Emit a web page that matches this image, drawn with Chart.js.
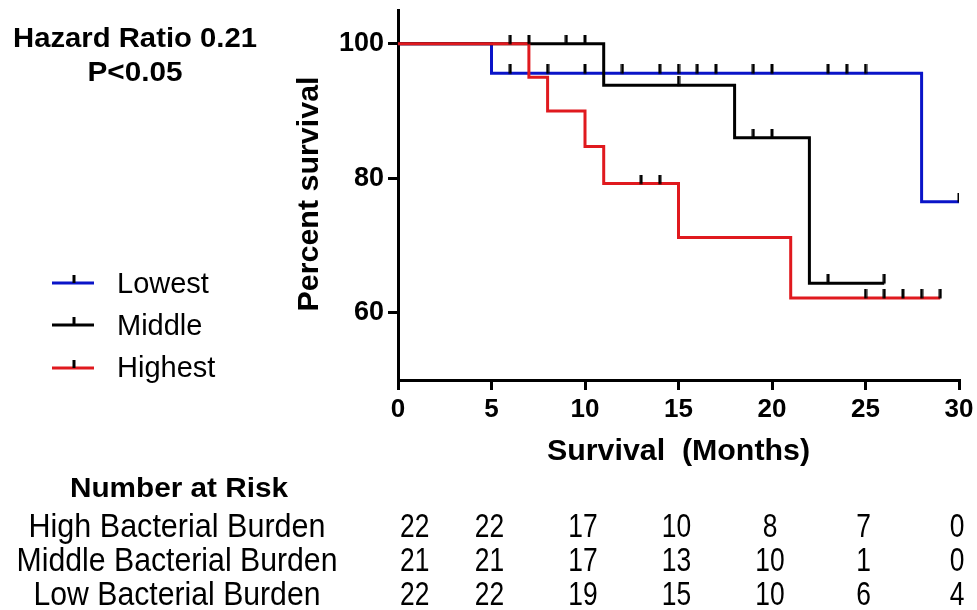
<!DOCTYPE html>
<html>
<head>
<meta charset="utf-8">
<script src="https://cdn.jsdelivr.net/npm/chart.js@4.4.1/dist/chart.umd.min.js"></script>
<style>
  html, body { margin: 0; padding: 0; background: #fff; }
  #wrap { width: 977px; height: 610px; position: relative; }
</style>
</head>
<body>
<div id="wrap"><canvas id="chart" width="977" height="610"></canvas></div>
<script>
'use strict';

// Kaplan-Meier steps (months, percent survival)
const lowestTimes = [0, 5, 28, 30];
const lowestSurv = [100, 95.6, 76.5, 76.5];
const lowestCensor = [6, 8, 10, 12, 14, 15, 16, 17, 19, 20, 23, 24, 25, 30];

const middleTimes = [0, 11, 18, 22, 26];
const middleSurv = [100, 93.8, 86.0, 64.4, 64.4];
const middleCensor = [6, 7, 9, 10, 15, 19, 20, 23, 26];

const highestTimes = [0, 7, 8, 10, 11, 15, 21, 29];
const highestSurv = [100, 95.0, 90.0, 84.7, 79.2, 71.2, 62.2, 62.2];
const highestCensor = [13, 14, 25, 26, 27, 28, 29];

const xTicks = [0, 5, 10, 15, 20, 25, 30];
const yTicks = [60, 80, 100];

// Number at risk table
const riskTimes = [0, 5, 10, 15, 20, 25, 30];
const riskLabels = ['High Bacterial Burden', 'Middle Bacterial Burden', 'Low Bacterial Burden'];
const riskHigh = [22, 22, 17, 10, 8, 7, 0];
const riskMiddle = [21, 21, 17, 13, 10, 1, 0];
const riskLow = [22, 22, 19, 15, 10, 6, 4];

const BLUE = '#0a14c8';
const RED = '#e0191e';
const BLACK = '#000000';
const FONT = '"Liberation Sans", Arial, sans-serif';

function toPoints(times, surv) {
  return times.map((t, i) => ({ x: t, y: surv[i] }));
}

// survival value at a censor time (value of the step curve)
function survAt(times, surv, t) {
  let v = surv[0];
  for (let i = 0; i < times.length; i++) {
    if (times[i] <= t) v = surv[i];
  }
  return v;
}

function censorPoints(times, surv, censor) {
  return censor.map(t => ({ x: t, y: survAt(times, surv, t) }));
}

// small tick pointing up from the line
const tickImg = document.createElement('canvas');
tickImg.width = 4;
tickImg.height = 18;
let tctx = tickImg.getContext('2d');
tctx.fillStyle = '#000';
tctx.fillRect(0.5, 0, 3, 9.5);

function lineSet(label, times, surv, color) {
  return {
    label: label,
    data: toPoints(times, surv),
    borderColor: color,
    borderWidth: 3,
    stepped: true,
    pointRadius: 0,
    fill: false,
    order: 1
  };
}

function censorSet(label, times, surv, censor) {
  return {
    label: label,
    type: 'scatter',
    data: censorPoints(times, surv, censor),
    pointStyle: tickImg,
    pointRadius: 9,
    showLine: false,
    order: 0
  };
}

// draws text, squeezing or stretching it horizontally to a wanted width
function fitText(ctx, text, x, y, font, width, align) {
  ctx.save();
  ctx.font = font;
  let w = ctx.measureText(text).width;
  let sx = width ? width / w : 1;
  ctx.translate(x, y);
  ctx.scale(sx, 1);
  ctx.textAlign = align || 'center';
  ctx.textBaseline = 'alphabetic';
  ctx.fillText(text, 0, 0);
  ctx.restore();
}

const extras = {
  id: 'extras',
  afterDraw(chart) {
    const ctx = chart.ctx;
    const xs = chart.scales.x;
    ctx.fillStyle = '#000';

    // statistics
    fitText(ctx, 'Hazard Ratio 0.21', 135, 47, 'bold 28px ' + FONT, 244);
    fitText(ctx, 'P<0.05', 135, 81, 'bold 28px ' + FONT, 95);

    // axis titles
    ctx.save();
    ctx.translate(318, 194);
    ctx.rotate(-Math.PI / 2);
    fitText(ctx, 'Percent survival', 0, 0, 'bold 30px ' + FONT, 235);
    ctx.restore();
    fitText(ctx, 'Survival  (Months)', (xs.left + xs.right) / 2, 460, 'bold 30px ' + FONT, 263);

    // legend
    const legend = [['Lowest', BLUE, 283, 293], ['Middle', BLACK, 325, 335], ['Highest', RED, 368, 377]];
    legend.forEach(item => {
      ctx.strokeStyle = item[1];
      ctx.lineWidth = 3;
      ctx.beginPath();
      ctx.moveTo(52, item[2]);
      ctx.lineTo(94, item[2]);
      ctx.stroke();
      ctx.strokeStyle = '#000';
      ctx.beginPath();
      ctx.moveTo(74, item[2]);
      ctx.lineTo(74, item[2] - 8);
      ctx.stroke();
      fitText(ctx, item[0], 117, item[3], '29px ' + FONT, 0, 'left');
    });

    // number at risk table
    fitText(ctx, 'Number at Risk', 179, 497, 'bold 28px ' + FONT, 218);
    const rows = [riskHigh, riskMiddle, riskLow];
    const baselines = [537, 571, 605];
    const widths = [297, 321, 287];
    const rowFont = '33px ' + FONT;
    rows.forEach((row, r) => {
      fitText(ctx, riskLabels[r], 177, baselines[r], rowFont, widths[r]);
      row.forEach((n, i) => {
        ctx.font = rowFont;
        let w = ctx.measureText(String(n)).width * 0.8;
        let px = Math.max(xs.getPixelForValue(riskTimes[i]) - 2, xs.left + 2 + w / 2);
        fitText(ctx, String(n), px, baselines[r], rowFont, w);
      });
    });
  }
};

const chartConfig = {
  type: 'line',
  data: {
    datasets: [
      lineSet('Highest', highestTimes, highestSurv, RED),
      lineSet('Middle', middleTimes, middleSurv, BLACK),
      lineSet('Lowest', lowestTimes, lowestSurv, BLUE),
      censorSet('Highest censored', highestTimes, highestSurv, highestCensor),
      censorSet('Middle censored', middleTimes, middleSurv, middleCensor),
      censorSet('Lowest censored', lowestTimes, lowestSurv, lowestCensor)
    ]
  },
  options: {
    responsive: false,
    animation: false,
    layout: { padding: { left: 0, right: 18, top: 8, bottom: 180 } },
    plugins: {
      legend: { display: false },
      tooltip: { enabled: false }
    },
    scales: {
      x: {
        type: 'linear',
        min: 0,
        max: 30,
        afterBuildTicks: s => { s.ticks = xTicks.map(v => ({ value: v })); },
        afterFit: s => { s.height = 50; s.paddingLeft = 0; s.paddingRight = 0; },
        grid: { drawOnChartArea: false, drawTicks: true, tickLength: 10, color: '#000', lineWidth: 3 },
        border: { display: true, color: '#000', width: 3 },
        ticks: { color: '#000', font: { family: FONT, size: 26, weight: 'bold' }, padding: 4, maxRotation: 0 }
      },
      y: {
        type: 'linear',
        min: 50,
        max: 105,
        afterBuildTicks: s => { s.ticks = yTicks.map(v => ({ value: v })); },
        afterFit: s => { s.width = 398; s.paddingTop = 0; s.paddingBottom = 0; },
        grid: { drawOnChartArea: false, drawTicks: true, tickLength: 10, color: '#000', lineWidth: 3 },
        border: { display: true, color: '#000', width: 3 },
        ticks: { color: '#000', font: { family: FONT, size: 27, weight: 'bold' }, padding: 4 }
      }
    }
  },
  plugins: [extras]
};

new Chart(document.getElementById('chart'), chartConfig);
</script>
</body>
</html>
